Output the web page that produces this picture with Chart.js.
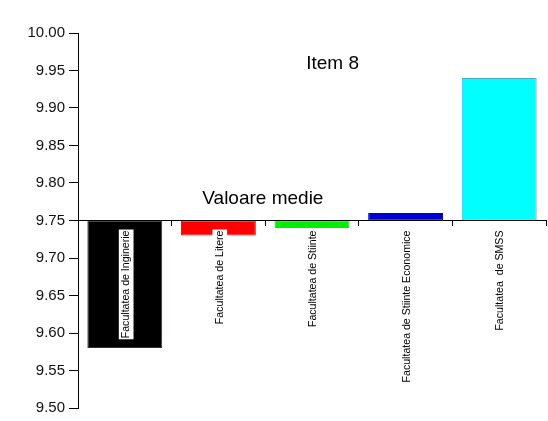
<!DOCTYPE html>
<html>
<head>
<meta charset="utf-8">
<script src="https://cdn.jsdelivr.net/npm/chart.js@4/dist/chart.umd.min.js"></script>
<style>
  html, body { margin: 0; padding: 0; background: #fff; }
  #wrap { width: 548px; height: 421px; }
</style>
</head>
<body>
<div id="wrap"><canvas id="c"></canvas></div>
<script>
var faculties = ["Facultatea de Inginerie", "Facultatea de Litere", "Facultatea de Stiinte", "Facultatea de Stiinte Economice", "Facultatea  de SMSS"];
var means = [9.58, 9.73, 9.74, 9.76, 9.94];
var baseline = 9.75;
var barColors = ["#000000", "#ff0000", "#00ee00", "#0000d0", "#00ffff"];
var barBorders = ["#7a1010", "#ff0000", "#00ee00", "#0000d0", "#4aa8c8"];
var yMin = 9.5, yMax = 10.0;

var FONT = "'Liberation Sans', Arial, sans-serif";

// floating bars from the 9.75 reference line to each mean
var floating = means.map(function(v) { return [baseline, v]; });

var notes = {
    id: "notes",
    afterDraw: function(chart) {
        var ctx = chart.ctx, area = chart.chartArea, ys = chart.scales.y;
        ctx.save();
        ctx.fillStyle = "#000";
        ctx.textAlign = "center";
        ctx.textBaseline = "alphabetic";
        ctx.font = "19px " + FONT;
        ctx.fillText("Item 8", area.left + 0.544 * (area.right - area.left), ys.getPixelForValue(9.952));
        ctx.fillText("Valoare medie", area.left + 0.395 * (area.right - area.left), ys.getPixelForValue(9.772));
        ctx.restore();
    }
};

new Chart(document.getElementById("c"), {
    type: "bar",
    data: {
        labels: faculties,
        datasets: [{
            data: floating,
            backgroundColor: barColors,
            borderColor: barBorders,
            borderWidth: 1,
            borderSkipped: false,
            barPercentage: 0.8,
            categoryPercentage: 1.0
        }]
    },
    options: {
        animation: false,
        responsive: true,
        maintainAspectRatio: false,
        layout: { padding: { left: 0, right: 2, top: 33, bottom: 10 } },
        plugins: { legend: { display: false }, tooltip: { enabled: false }, title: { display: false } },
        scales: {
            x: {
                position: { y: baseline },
                offset: true,
                grid: { drawOnChartArea: false, drawTicks: true, tickLength: 5, color: "#000", offset: true, z: 1 },
                border: { display: true, color: "#000", width: 1, z: 1 },
                ticks: {
                    z: 1,
                    autoSkip: false, minRotation: 90, maxRotation: 90, padding: 5, labelOffset: -5,
                    color: "#000", font: { family: FONT, size: 10.6 },
                    showLabelBackdrop: true, backdropColor: "#fff", backdropPadding: 1
                }
            },
            y: {
                min: yMin, max: yMax,
                grid: { drawOnChartArea: false, drawTicks: true, tickLength: 9, color: "#000" },
                border: { display: true, color: "#000", width: 1 },
                afterFit: function(scale) { scale.width = 78; },
                ticks: {
                    stepSize: 0.025, padding: 4, color: "#111",
                    font: { family: FONT, size: 15 },
                    callback: function(v) {
                        var k = Math.round(v * 1000);
                        return k % 50 === 0 ? (k / 1000).toFixed(2) : "";
                    }
                }
            }
        }
    },
    plugins: [notes]
});
</script>
</body>
</html>
